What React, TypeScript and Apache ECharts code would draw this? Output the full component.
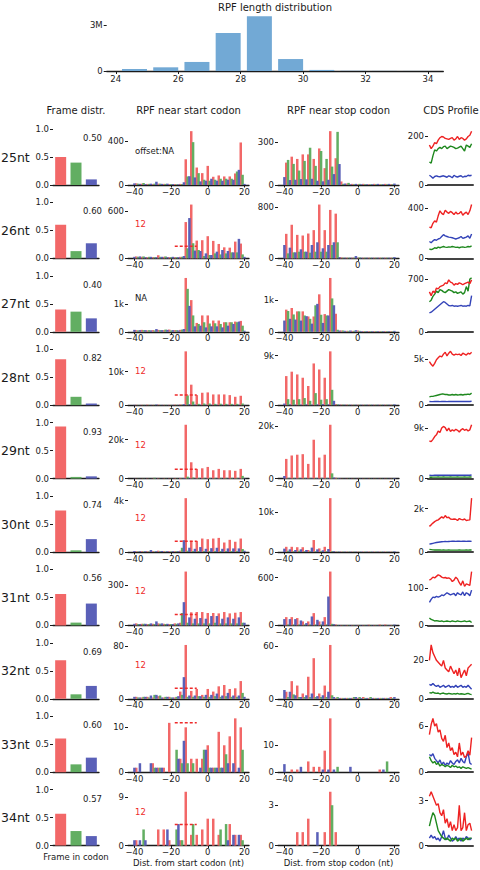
import React, { useEffect, useRef } from 'react';
import * as echarts from 'echarts';

// ---------- DATA ----------
const lengths = [25, 26, 27, 28, 29, 30, 31, 32, 33, 34];
const lengthCounts = [130000, 240000, 590000, 2480000, 3570000, 780000, 70000, 15000, 8000, 5000];
const lengthTicks = [24, 26, 28, 30, 32, 34];

const rowLabels = ['25nt', '26nt', '27nt', '28nt', '29nt', '30nt', '31nt', '32nt', '33nt', '34nt'];
const frameFractions = [
  [0.50, 0.40, 0.10], [0.60, 0.13, 0.27], [0.40, 0.36, 0.24], [0.82, 0.15, 0.03], [0.93, 0.03, 0.04],
  [0.74, 0.03, 0.23], [0.56, 0.05, 0.39], [0.69, 0.08, 0.23], [0.60, 0.14, 0.26], [0.57, 0.26, 0.17],
];
const offsetLabels = ['offset:NA', '12', 'NA', '12', '12', '12', '12', '12', '', '12'];
const offsetLineValues = [null, 154, null, 3000, 4800, 845, 81, 16, 11, 3.9];
const startTicks = [400, 600, 1000, 10000, 20000, 4000, 300, 80, 10, 9];
const stopTicks = [300, 800, 1000, 9000, 20000, 10000, 600, 60, 10, 3];
const cdsTicks = [200, 400, 700, 5000, 9000, 2000, 100, 20, 6, 3];
const ntTicks = [-40, -20, 0, 20];

// frame 0 (red) at -42,-39,...; frame 1 (green) at -41,...; frame 2 (blue) at -40,...
const start25 = [
  [0, 15, 12, 10, 8, 12, 10, 8, 8, 10, 234, 490, 159, 108, 174, 75, 87, 78, 78, 105, 387],
  [0, 12, 18, 10, 12, 12, 10, 8, 6, 8, 78, 390, 108, 48, 39, 48, 57, 57, 57, 123, 93],
  [15, 10, 8, 12, 30, 10, 12, 8, 6, 25, 80, 69, 33, 39, 57, 39, 39, 48, 48, 138, 10],
];
const start26 = [
  [0, 25, 20, 15, 15, 40, 20, 15, 15, 20, 463, 686, 227, 232, 283, 223, 184, 141, 137, 214, 189],
  [0, 20, 25, 20, 15, 20, 25, 15, 15, 20, 129, 193, 107, 30, 43, 64, 51, 64, 77, 77, 51],
  [20, 25, 15, 20, 15, 20, 15, 20, 15, 30, 514, 100, 94, 64, 43, 86, 107, 94, 77, 249, 20],
];
const start27 = [
  [0, 60, 70, 50, 60, 70, 60, 80, 60, 70, 1950, 1148, 321, 593, 593, 408, 408, 346, 346, 370, 395],
  [0, 50, 60, 60, 50, 60, 80, 50, 60, 80, 1556, 593, 284, 346, 300, 309, 284, 346, 346, 346, 222],
  [70, 60, 60, 50, 99, 60, 70, 60, 50, 100, 939, 198, 222, 160, 198, 198, 160, 222, 284, 370, 40],
];
const start28 = [
  [0, 100, 100, 150, 100, 150, 100, 100, 150, 200, 16000, 6100, 3000, 3700, 3800, 3200, 3200, 3200, 3000, 2500, 2800],
  [0, 80, 100, 80, 100, 80, 100, 80, 100, 150, 2900, 1100, 400, 500, 500, 400, 450, 400, 400, 400, 500],
  [100, 80, 80, 100, 200, 100, 80, 100, 100, 300, 300, 200, 150, 150, 150, 150, 150, 150, 150, 150, 100],
];
const start29 = [
  [0, 100, 100, 150, 150, 200, 150, 150, 200, 300, 27700, 8400, 5000, 5300, 6000, 4300, 5000, 4300, 4300, 4000, 5000],
  [0, 100, 150, 100, 400, 100, 150, 100, 150, 200, 1000, 500, 300, 300, 300, 300, 300, 300, 300, 300, 1400],
  [100, 100, 100, 100, 150, 100, 100, 100, 100, 300, 300, 200, 200, 200, 200, 200, 200, 200, 200, 200, 200],
];
const start30 = [
  [0, 60, 60, 60, 60, 100, 60, 60, 60, 100, 4200, 870, 870, 1050, 1000, 1050, 1100, 740, 950, 800, 1050],
  [0, 40, 40, 40, 40, 60, 40, 40, 60, 330, 100, 80, 80, 80, 80, 80, 80, 80, 80, 80, 230],
  [80, 60, 60, 150, 60, 80, 60, 60, 60, 920, 333, 250, 384, 250, 300, 330, 250, 280, 280, 280, 100],
];
const start31 = [
  [0, 15, 12, 10, 12, 15, 12, 10, 15, 20, 403, 98, 100, 100, 93, 93, 90, 100, 90, 95, 100],
  [0, 10, 12, 10, 10, 12, 10, 10, 12, 93, 20, 15, 15, 15, 15, 20, 15, 15, 15, 15, 20],
  [12, 10, 12, 15, 30, 15, 12, 10, 15, 174, 60, 50, 55, 50, 70, 70, 50, 60, 50, 60, 20],
];
const start32 = [
  [0, 3, 2, 3, 2, 4, 2, 3, 2, 11, 82, 12, 15, 6, 15, 11, 19, 21, 15, 16, 27],
  [0, 2, 3, 2, 6, 5, 3, 2, 3, 6, 3, 3, 4, 3, 3, 4, 3, 4, 3, 3, 9],
  [3, 2, 3, 5, 6, 2, 3, 2, 4, 33, 5, 5, 4, 6, 6, 8, 5, 9, 5, 5, 3],
];
const start33 = [
  [0, 1, 0, 0, 2, 1, 1, 11, 0, 3, 10, 3, 3, 3, 6, 1, 9, 6, 8, 12, 10],
  [0, 0, 0, 0, 1, 1, 0, 0, 5, 2, 2, 2, 0, 5, 1, 1, 1, 4, 0, 0, 5],
  [1, 2, 0, 2, 1, 1, 0, 0, 3, 7, 0, 0, 1, 5, 1, 1, 1, 2, 2, 1, 0],
];
const start34 = [
  [0, 1, 0, 0, 0, 3, 3, 1, 0, 1, 10, 2, 2, 3, 5, 5, 2, 0, 4, 2, 2],
  [0, 0, 3, 0, 0, 0, 0, 0, 3, 1, 0, 4, 0, 0, 0, 0, 3, 4, 0, 0, 1],
  [1, 1, 1, 0, 0, 0, 3, 0, 4, 0, 0, 0, 0, 0, 0, 0, 0, 1, 2, 2, 0],
];

const stop25 = [
  [0, 158, 200, 184, 216, 216, 184, 258, 119, 380, 189, 25, 10, 8, 5, 8, 5, 8, 5, 8, 5],
  [0, 177, 149, 102, 170, 263, 135, 240, 184, 130, 375, 8, 15, 5, 8, 5, 5, 5, 5, 5, 5],
  [56, 35, 37, 42, 40, 44, 30, 26, 37, 77, 148, 10, 5, 8, 5, 5, 5, 8, 5, 8, 10],
];
const stop26 = [
  [0, 384, 526, 368, 358, 389, 442, 842, 442, 758, 700, 15, 10, 10, 10, 10, 10, 10, 10, 10, 10],
  [0, 79, 95, 105, 105, 90, 105, 105, 105, 210, 252, 10, 10, 10, 15, 10, 10, 10, 10, 10, 10],
  [210, 168, 95, 142, 105, 210, 252, 158, 210, 252, 20, 10, 10, 37, 10, 10, 10, 10, 10, 10, 20],
];
const stop27 = [
  [0, 700, 752, 645, 645, 484, 484, 1183, 559, 1700, 570, 40, 30, 30, 40, 20, 20, 20, 20, 20, 20],
  [0, 656, 548, 645, 516, 410, 838, 538, 516, 1054, 65, 40, 30, 30, 30, 20, 20, 20, 20, 20, 20],
  [355, 410, 387, 355, 494, 258, 882, 280, 516, 838, 40, 30, 40, 50, 20, 20, 20, 20, 20, 20, 30],
];
const stop28 = [
  [0, 5300, 6100, 5600, 5000, 3500, 7600, 6500, 5000, 9800, 200, 100, 100, 80, 80, 80, 80, 80, 80, 80, 80],
  [0, 1100, 1000, 1100, 1300, 800, 2200, 1000, 1100, 2800, 150, 100, 80, 80, 80, 80, 80, 80, 80, 80, 80],
  [300, 150, 100, 100, 150, 100, 150, 200, 150, 800, 100, 80, 80, 80, 80, 80, 80, 80, 80, 80, 150],
];
const stop29 = [
  [0, 7500, 8800, 9100, 9300, 5600, 14800, 8000, 9100, 20500, 300, 100, 100, 100, 100, 100, 100, 100, 100, 100, 100],
  [0, 200, 200, 200, 200, 200, 200, 200, 200, 2000, 200, 100, 100, 100, 100, 100, 100, 100, 100, 100, 100],
  [1000, 200, 200, 200, 200, 200, 200, 200, 200, 400, 200, 100, 100, 100, 100, 100, 100, 100, 100, 100, 200],
];
const stop30 = [
  [0, 1300, 1300, 1200, 1200, 500, 3000, 900, 1300, 13500, 100, 80, 80, 80, 80, 80, 80, 80, 80, 80, 80],
  [0, 300, 200, 300, 200, 200, 200, 200, 200, 200, 100, 80, 80, 80, 80, 80, 80, 80, 80, 80, 80],
  [840, 670, 500, 670, 500, 1100, 670, 420, 760, 200, 100, 80, 80, 80, 80, 80, 80, 80, 80, 80, 150],
];
const stop31 = [
  [0, 104, 104, 92, 50, 50, 154, 50, 104, 675, 10, 5, 5, 5, 5, 5, 8, 5, 10, 10, 5],
  [0, 10, 10, 10, 10, 10, 10, 10, 10, 20, 5, 5, 5, 5, 5, 5, 5, 5, 5, 5, 5],
  [79, 79, 79, 62, 29, 112, 70, 50, 362, 15, 5, 5, 5, 5, 5, 5, 5, 5, 5, 5, 10],
];
const stop32 = [
  [0, 8, 20, 15, 6, 25, 46, 6, 15, 61, 1, 1, 1, 1, 1, 2, 1, 1, 1, 1, 2],
  [0, 2, 5, 2, 2, 2, 2, 2, 2, 4, 2, 1, 1, 2, 2, 1, 2, 1, 1, 1, 1],
  [10, 8, 4, 2, 4, 6, 3, 4, 8, 2, 1, 1, 1, 2, 1, 1, 1, 1, 1, 1, 2],
];
const stop33 = [
  [0, 0, 1, 1, 0, 4, 2, 2, 8, 20, 0, 0, 0, 0, 0, 0, 0, 0, 1, 0, 0],
  [0, 0, 0, 0, 0, 0, 0, 0, 0, 0, 2, 0, 0, 0, 0, 0, 0, 0, 0, 4, 0],
  [3, 0, 0, 2, 0, 0, 0, 1, 1, 1, 0, 0, 2, 0, 0, 0, 0, 0, 1, 0, 0],
];
const stop34 = [
  [0, 0, 0, 1, 1, 2, 0, 0, 1, 4, 1, 0, 0, 0, 0, 0, 0, 0, 0, 0, 0],
  [0, 0, 0, 0, 0, 0, 0, 0, 0, 3, 0, 0, 0, 0, 0, 0, 0, 0, 0, 0, 0],
  [0, 0, 0, 0, 0, 0, 1, 0, 0, 0, 0, 0, 0, 0, 0, 0, 0, 0, 0, 0, 0],
];

// CDS profile: [red, green, blue]
const cds25 = [
  [165, 150, 160, 175, 170, 185, 195, 200, 198, 192, 190, 188, 192, 195, 185, 190, 200, 188, 195, 192, 185, 190, 200, 205, 222],
  [95, 90, 120, 145, 140, 150, 155, 150, 158, 160, 150, 155, 160, 158, 155, 150, 152, 156, 160, 150, 140, 165, 160, 155, 170],
  [40, 35, 28, 35, 38, 35, 34, 36, 38, 35, 32, 38, 35, 30, 40, 35, 33, 36, 38, 32, 36, 35, 40, 38, 40],
];
const cds26 = [
  [250, 245, 280, 300, 290, 340, 380, 360, 350, 385, 370, 360, 375, 365, 350, 370, 355, 360, 375, 345, 360, 370, 350, 380, 430],
  [75, 70, 75, 85, 80, 90, 85, 90, 95, 90, 88, 92, 90, 95, 92, 88, 90, 85, 90, 92, 88, 90, 95, 92, 100],
  [135, 125, 140, 150, 145, 155, 160, 175, 190, 180, 175, 170, 168, 165, 160, 155, 160, 165, 175, 160, 165, 170, 180, 160, 195],
];
const cds27 = [
  [530, 480, 540, 520, 580, 570, 600, 610, 620, 650, 640, 690, 660, 650, 620, 640, 630, 650, 640, 625, 640, 650, 660, 640, 690],
  [400, 420, 470, 500, 540, 520, 560, 550, 530, 520, 540, 560, 550, 540, 520, 530, 510, 520, 530, 500, 520, 600, 540, 700, 715],
  [250, 260, 280, 300, 320, 340, 360, 380, 400, 390, 370, 350, 345, 350, 340, 345, 340, 345, 350, 340, 345, 340, 350, 345, 480],
];
const cds28 = [
  [4700, 4400, 4200, 4500, 4900, 5100, 5300, 5200, 5500, 5700, 5300, 5600, 5800, 5500, 5400, 5500, 5450, 5500, 5350, 5600, 5500, 5400, 5600, 5500, 5700],
  [900, 950, 950, 1000, 1050, 1100, 1150, 1200, 1200, 1150, 1150, 1100, 1100, 1150, 1100, 1150, 1100, 1120, 1150, 1100, 1150, 1150, 1200, 1150, 1300],
  [400, 380, 390, 400, 410, 400, 390, 400, 410, 400, 390, 400, 405, 400, 395, 400, 410, 400, 395, 400, 405, 400, 410, 400, 420],
];
const cds29 = [
  [6700, 6600, 7000, 7500, 7800, 8500, 8200, 9000, 9300, 9100, 8500, 9000, 8400, 8700, 8500, 8800, 8600, 8300, 8700, 8900, 8600, 8800, 8500, 8700, 9600],
  [250, 240, 260, 270, 260, 280, 270, 260, 280, 270, 260, 270, 280, 270, 260, 270, 275, 270, 265, 270, 280, 270, 260, 275, 280],
  [600, 550, 580, 600, 620, 610, 600, 590, 610, 600, 620, 610, 600, 590, 600, 620, 610, 600, 590, 610, 600, 620, 610, 600, 650],
];
const cds30 = [
  [1180, 1250, 1330, 1400, 1450, 1480, 1550, 1620, 1560, 1680, 1580, 1600, 1520, 1500, 1520, 1510, 1450, 1540, 1500, 1480, 1520, 1450, 1470, 1480, 2480],
  [120, 110, 100, 95, 90, 95, 90, 85, 90, 88, 85, 90, 88, 85, 86, 88, 85, 90, 86, 88, 85, 90, 88, 90, 92],
  [360, 380, 400, 420, 440, 450, 460, 470, 480, 490, 480, 485, 490, 500, 495, 490, 500, 495, 490, 500, 495, 490, 500, 495, 490],
];
const cds31 = [
  [122, 125, 130, 128, 132, 136, 134, 130, 128, 129, 127, 128, 125, 118, 122, 130, 125, 115, 108, 120, 105, 112, 110, 108, 145],
  [20, 16, 14, 12, 13, 12, 11, 12, 10, 11, 12, 11, 10, 12, 11, 10, 12, 11, 10, 11, 12, 10, 11, 12, 8],
  [62, 70, 76, 75, 78, 76, 78, 82, 80, 84, 88, 85, 82, 84, 86, 80, 88, 84, 82, 90, 80, 88, 85, 80, 95],
];
const cds32 = [
  [20, 28, 24, 22, 20, 19, 18, 17, 20, 16, 15, 14, 17, 15, 13, 15, 12, 16, 11, 13, 15, 12, 16, 17, 18],
  [3.2, 3, 3.5, 3, 2.8, 3, 2.5, 2.8, 3, 2.6, 2.5, 2.8, 2.6, 2.4, 2.7, 2.5, 2.8, 2.4, 2.6, 2.5, 2.3, 2.6, 2.8, 2.4, 2.2],
  [7.5, 7, 8, 7, 6.5, 7, 6, 6.5, 7, 6, 6.5, 7, 6, 6.5, 6, 7, 6, 6.5, 7, 6, 6.5, 6, 7, 6, 5],
];
const cds33 = [
  [4.9, 6.2, 7.0, 6.0, 6.3, 5.2, 5.5, 4.4, 4.0, 4.8, 3.2, 3.8, 2.8, 3.2, 2.3, 2.6, 2.0, 3.8, 2.2, 2.6, 1.9, 2.1, 2.8, 2.2, 4.5],
  [2.0, 1.5, 1.2, 1.4, 1.0, 1.2, 0.8, 1.0, 0.9, 0.7, 0.9, 0.8, 0.6, 0.9, 0.7, 0.8, 0.6, 0.7, 0.5, 0.7, 0.6, 0.5, 0.6, 0.5, 0.4],
  [2.3, 2.1, 2.4, 1.8, 1.5, 1.2, 1.6, 1.0, 1.3, 0.9, 1.2, 1.0, 1.5, 1.2, 1.0, 1.4, 1.6, 1.2, 1.8, 1.4, 1.2, 2.0, 2.5, 1.2, 1.0],
];
const cds34 = [
  [3.3, 3.6, 3.3, 3.0, 2.7, 2.8, 2.2, 2.0, 2.4, 1.5, 1.8, 1.2, 1.6, 1.0, 1.4, 1.0, 1.2, 2.7, 1.0, 1.2, 2.2, 1.0, 1.4, 1.5, 1.0],
  [1.3, 1.8, 2.2, 2.0, 1.5, 1.0, 0.8, 0.6, 0.5, 0.4, 0.5, 0.4, 0.3, 0.5, 0.4, 0.5, 0.3, 0.4, 0.5, 0.3, 0.4, 0.5, 0.4, 0.5, 0.5],
  [0.5, 0.7, 0.5, 0.6, 0.4, 0.5, 0.3, 0.6, 1.0, 0.5, 0.4, 0.7, 0.5, 0.3, 0.4, 0.6, 0.4, 0.5, 0.3, 0.5, 0.4, 0.6, 0.5, 0.4, 0.5],
];

const startData = [start25, start26, start27, start28, start29, start30, start31, start32, start33, start34];
const stopData = [stop25, stop26, stop27, stop28, stop29, stop30, stop31, stop32, stop33, stop34];
const cdsData = [cds25, cds26, cds27, cds28, cds29, cds30, cds31, cds32, cds33, cds34];

// ---------- STYLE ----------
const FONT = '"DejaVu Sans", sans-serif';
const TXT = '#1a1a1a';
const BAR_COLORS = ['#f26868', '#62ae62', '#5a60b8'];
const LINE_COLORS = ['#ee2222', '#1e881e', '#3343b8'];
const OFFSET_RED = '#ee2a2a';

const framePositions = [0, 1, 2].map((f) => startData[0][f].map((_, k) => -42 + f + 3 * k));

function fmtTick(v: number) {
  if (v === 0) return '0';
  if (v >= 1e6) return v / 1e6 + 'M';
  if (v >= 1000) return v / 1000 + 'k';
  return String(v);
}
function fmtX(v: number) {
  return v < 0 ? '\u2212' + Math.abs(v) : String(v);
}

function text(x: number, y: number, s: string, size: number, fill: string, align = 'center', va = 'middle') {
  return {
    type: 'text', x, y, silent: true,
    style: {
      text: s, fill, font: `${size}px ${FONT}`, fontSize: size, fontFamily: FONT,
      align, verticalAlign: va, textAlign: align, textVerticalAlign: va,
    },
  };
}

const labelStyle = { fontSize: 8.5, color: TXT, fontFamily: FONT };

function valueY(g: number, max: number, ticks: number[], fmt: (v: number) => string) {
  return {
    gridIndex: g, type: 'value', min: 0, max,
    axisLine: { show: false, onZero: false }, splitLine: { show: false },
    axisTick: { show: true, length: 3, lineStyle: { color: TXT, width: 1 }, customValues: ticks },
    axisLabel: { show: true, margin: 4, ...labelStyle, customValues: ticks, formatter: fmt },
  };
}

function buildOption() {
  const grid: any[] = [];
  const xAxis: any[] = [];
  const yAxis: any[] = [];
  const series: any[] = [];
  const graphic: any[] = [];

  // top length distribution
  grid.push({ left: 106.7, top: 15.8, width: 336.6, height: 55.2, containLabel: false, outerBoundsMode: 'none' });
  xAxis.push({
    gridIndex: 0, type: 'value', min: 23.71, max: 34.49, splitLine: { show: false },
    axisLine: { show: true, onZero: false, lineStyle: { color: TXT, width: 1.3 } },
    axisTick: { show: true, length: 3, lineStyle: { color: TXT }, customValues: lengthTicks },
    axisLabel: { margin: 3, ...labelStyle, customValues: lengthTicks, formatter: fmtX },
  });
  yAxis.push(valueY(0, 3.6e6, [0, 3e6], fmtTick));
  series.push({
    type: 'bar', xAxisIndex: 0, yAxisIndex: 0, barWidth: 25,
    itemStyle: { color: '#72a9d5' },
    data: lengths.map((l, k) => [l - 0.4, lengthCounts[k]]),
  });
  graphic.push(text(275, 7, 'RPF length distribution', 10, TXT));

  // column headers
  graphic.push(text(76, 110, 'Frame distr.', 10, TXT));
  graphic.push(text(188.5, 110, 'RPF near start codon', 10, TXT));
  graphic.push(text(338.5, 110, 'RPF near stop codon', 10, TXT));
  graphic.push(text(451, 110, 'CDS Profile', 10, TXT));

  const ntPanel = (left: number, top: number, data: number[][], tick: number) => {
    const g = grid.length;
    grid.push({ left, top, width: 121, height: 56, containLabel: false, outerBoundsMode: 'none' });
    xAxis.push({
      gridIndex: g, type: 'value', min: -43.5, max: 22.5, splitLine: { show: false },
      axisLine: { show: true, onZero: false, lineStyle: { color: TXT, width: 1.3 } },
      axisTick: { show: true, length: 2.5, lineStyle: { color: TXT }, customValues: ntTicks },
      axisLabel: { margin: 2, ...labelStyle, customValues: ntTicks, formatter: fmtX },
    });
    const mx = Math.max(...data[0], ...data[1], ...data[2]);
    yAxis.push(valueY(g, mx * 1.04, [0, tick], fmtTick));
    data.forEach((arr, f) => {
      series.push({
        type: 'bar', xAxisIndex: g, yAxisIndex: g, barWidth: 2.5, barGap: '-100%',
        itemStyle: { color: BAR_COLORS[f] },
        data: arr.map((v, k) => [framePositions[f][k], v]),
      });
    });
    return g;
  };

  for (let i = 0; i < 10; i++) {
    const y0 = 185 + i * 73.4;
    const top = y0 - 56;

    graphic.push(text(1, y0 - 28, rowLabels[i], 12.5, TXT, 'left'));

    // frame
    let g = grid.length;
    grid.push({ left: 53, top, width: 46, height: 56, containLabel: false, outerBoundsMode: 'none' });
    xAxis.push({
      gridIndex: g, type: 'category', data: ['0', '1', '2'],
      axisLine: { show: true, lineStyle: { color: TXT, width: 1.3 } },
      axisTick: { show: false }, axisLabel: { show: false }, splitLine: { show: false },
    });
    yAxis.push(valueY(g, 1, [0, 0.5, 1], (v: number) => v.toFixed(1)));
    series.push({
      type: 'bar', xAxisIndex: g, yAxisIndex: g, barWidth: 11,
      data: frameFractions[i].map((v, j) => ({ value: v, itemStyle: { color: BAR_COLORS[j] } })),
    });
    graphic.push(text(102, y0 - 47, frameFractions[i][0].toFixed(2), 8.5, TXT, 'right'));

    // start
    g = ntPanel(128, top, startData[i], startTicks[i]);
    const ov = offsetLineValues[i];
    if (ov != null) {
      series.push({
        type: 'line', xAxisIndex: g, yAxisIndex: g, symbol: 'none', showSymbol: false, z: 5,
        lineStyle: { color: OFFSET_RED, width: 1.5, type: [3, 2] },
        data: [[-18, ov], [-6, ov]],
      });
    }
    if (offsetLabels[i]) {
      graphic.push(text(135, y0 - 34, offsetLabels[i], 8.5, offsetLabels[i] === '12' ? OFFSET_RED : TXT, 'left'));
    }

    // stop
    ntPanel(278, top, stopData[i], stopTicks[i]);

    // CDS
    g = grid.length;
    grid.push({ left: 428, top, width: 45, height: 56, containLabel: false, outerBoundsMode: 'none' });
    const cd = cdsData[i];
    xAxis.push({
      gridIndex: g, type: 'value', min: -0.8, max: cd[0].length - 0.2, splitLine: { show: false },
      axisLine: { show: true, onZero: false, lineStyle: { color: '#444', width: 2 } },
      axisTick: { show: false }, axisLabel: { show: false },
    });
    const cmx = Math.max(...cd[0], ...cd[1], ...cd[2]);
    yAxis.push(valueY(g, cmx * 1.04, [0, cdsTicks[i]], fmtTick));
    [2, 1, 0].forEach((f) => {
      series.push({
        type: 'line', xAxisIndex: g, yAxisIndex: g, symbol: 'none', showSymbol: false,
        lineStyle: { color: LINE_COLORS[f], width: 1.4 },
        data: cd[f].map((v, k) => [k, v]),
      });
    });
  }

  graphic.push(text(76, 857, 'Frame in codon', 8.5, TXT));
  graphic.push(text(188.5, 863, 'Dist. from start codon (nt)', 8.5, TXT));
  graphic.push(text(338.5, 863, 'Dist. from stop codon (nt)', 8.5, TXT));

  return {
    animation: false,
    backgroundColor: '#ffffff',
    textStyle: { fontFamily: FONT },
    grid, xAxis, yAxis, series, graphic,
  };
}

export default function App() {
  const ref = useRef<HTMLDivElement>(null);
  useEffect(() => {
    if (!ref.current) return;
    const chart = echarts.init(ref.current, null, { renderer: 'svg' });
    chart.setOption(buildOption() as any);
    return () => chart.dispose();
  }, []);
  return (
    <div
      ref={ref}
      style={{ position: 'absolute', left: 0, top: 0, width: 480, height: 870, background: '#fff' }}
    />
  );
}
